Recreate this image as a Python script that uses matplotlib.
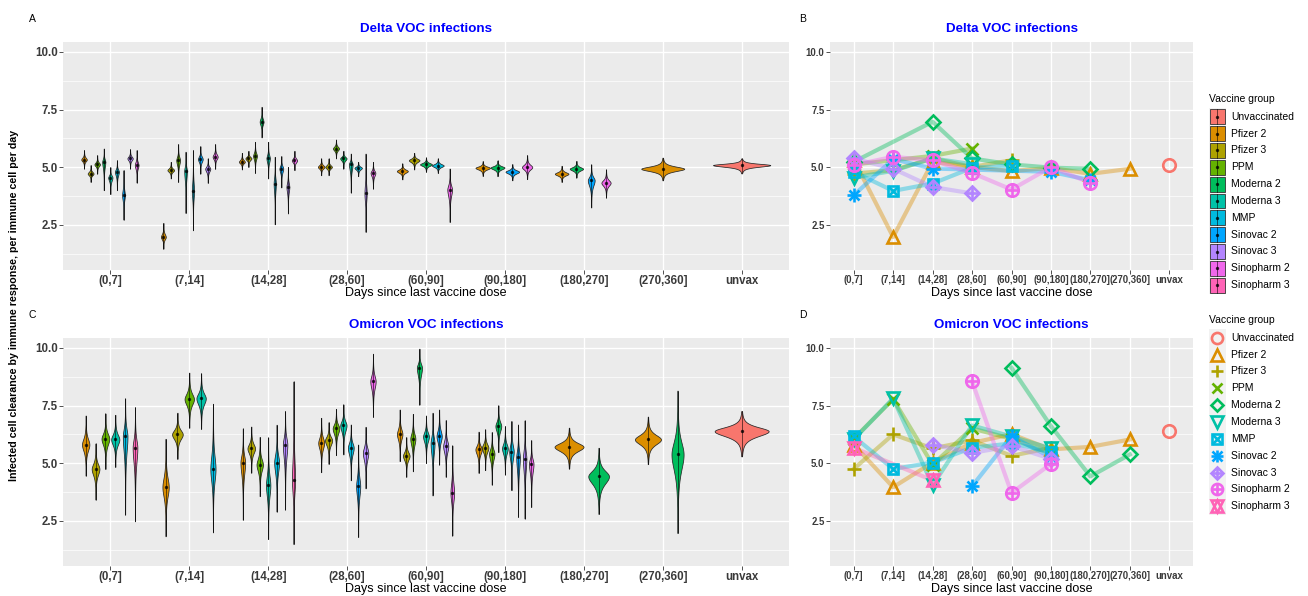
import numpy as np
import pandas as pd
import matplotlib
matplotlib.use('Agg')
import matplotlib.pyplot as plt
from matplotlib.patches import Rectangle

plt.rcParams['font.family'] = ['Liberation Sans', 'DejaVu Sans']

W, H = 1308, 596

groups = ['Unvaccinated', 'Pfizer 2', 'Pfizer 3', 'PPM', 'Moderna 2', 'Moderna 3',
          'MMP', 'Sinovac 2', 'Sinovac 3', 'Sinopharm 2', 'Sinopharm 3']
group_colors = ['#F8766D', '#DB8E00', '#AEA200', '#64B200', '#00BD5C', '#00C1A7',
                '#00BADE', '#00A6FF', '#B385FF', '#EF67EB', '#FF63B6']
# ggplot shapes 1..11 built from matplotlib markers (marker, size factor)
group_markers = [[('o', 1.0)], [('^', 1.0)], [('+', 1.15)], [('x', 0.9)], [('D', 0.78)],
                 [('v', 1.0)], [('s', 0.85), ('x', 0.85)], [('+', 1.15), ('x', 0.85)],
                 [('D', 0.78), ('+', 1.05)], [('o', 1.0), ('+', 1.0)], [('^', 1.0), ('v', 1.0)]]
categories = ['(0,7]', '(7,14]', '(14,28]', '(28,60]', '(60,90]', '(90,180]',
              '(180,270]', '(270,360]', 'unvax']

# ---- Delta VOC: median and range of each posterior violin
delta_cat = (['(0,7]'] * 9 + ['(7,14]'] * 8 + ['(14,28]'] * 9 + ['(28,60]'] * 8 +
             ['(60,90]'] * 5 + ['(90,180]'] * 4 + ['(180,270]'] * 4 + ['(270,360]'] + ['unvax'])
delta_grp = ['Pfizer 2', 'Pfizer 3', 'PPM', 'Moderna 2', 'Moderna 3', 'MMP', 'Sinovac 2', 'Sinovac 3', 'Sinopharm 2',
             'Pfizer 2', 'Pfizer 3', 'PPM', 'Moderna 3', 'MMP', 'Sinovac 2', 'Sinovac 3', 'Sinopharm 2',
             'Pfizer 2', 'Pfizer 3', 'PPM', 'Moderna 2', 'Moderna 3', 'MMP', 'Sinovac 2', 'Sinovac 3', 'Sinopharm 2',
             'Pfizer 2', 'Pfizer 3', 'PPM', 'Moderna 2', 'Moderna 3', 'MMP', 'Sinovac 3', 'Sinopharm 2',
             'Pfizer 2', 'Pfizer 3', 'Moderna 2', 'MMP', 'Sinopharm 2',
             'Pfizer 2', 'Moderna 2', 'Sinovac 2', 'Sinopharm 2',
             'Pfizer 2', 'Moderna 2', 'Sinovac 2', 'Sinopharm 2',
             'Pfizer 2',
             'Unvaccinated']
delta_med = [5.33, 4.72, 5.12, 5.23, 4.55, 4.80, 3.78, 5.38, 5.09,
             1.97, 4.87, 5.30, 4.84, 3.97, 5.35, 4.93, 5.45,
             5.23, 5.38, 5.49, 6.97, 5.38, 4.29, 4.94, 4.14, 5.29,
             5.01, 5.01, 5.81, 5.38, 5.13, 4.97, 3.86, 4.75,
             4.83, 5.30, 5.12, 5.07, 4.03,
             4.97, 4.98, 4.80, 5.00,
             4.71, 4.93, 4.43, 4.32,
             4.93,
             5.09]
delta_lo = [4.94, 4.36, 4.72, 4.00, 3.83, 4.00, 2.72, 4.94, 4.33,
            1.46, 4.51, 4.36, 3.01, 2.26, 4.72, 4.32, 4.93,
            4.90, 5.01, 4.75, 6.29, 4.51, 2.52, 4.12, 2.99, 4.87,
            4.65, 4.65, 5.38, 4.94, 3.90, 4.61, 2.19, 4.07,
            4.47, 4.90, 4.80, 4.75, 2.62,
            4.62, 4.61, 4.43, 4.48,
            4.36, 4.55, 3.25, 3.68,
            4.43,
            4.73]
delta_hi = [5.74, 5.09, 5.52, 5.81, 5.00, 5.30, 4.87, 5.78, 5.74,
            2.58, 5.23, 6.00, 5.67, 5.74, 5.91, 5.38, 6.00,
            5.62, 5.71, 6.10, 7.62, 6.10, 5.45, 5.48, 5.01, 5.71,
            5.38, 5.38, 6.20, 5.71, 5.59, 5.23, 5.59, 5.23,
            5.16, 5.62, 5.42, 5.38, 4.94,
            5.26, 5.29, 5.13, 5.52,
            5.06, 5.27, 5.12, 4.90,
            5.41,
            5.38]

# ---- Omicron VOC
omi_cat = (['(0,7]'] * 6 + ['(7,14]'] * 5 + ['(14,28]'] * 7 + ['(28,60]'] * 8 +
           ['(60,90]'] * 9 + ['(90,180]'] * 9 + ['(180,270]'] * 2 + ['(270,360]'] * 2 + ['unvax'])
omi_grp = ['Pfizer 2', 'Pfizer 3', 'PPM', 'Moderna 3', 'MMP', 'Sinopharm 3',
           'Pfizer 2', 'Pfizer 3', 'PPM', 'Moderna 3', 'MMP',
           'Pfizer 2', 'Pfizer 3', 'PPM', 'Moderna 3', 'MMP', 'Sinovac 3', 'Sinopharm 3',
           'Pfizer 2', 'Pfizer 3', 'PPM', 'Moderna 3', 'MMP', 'Sinovac 2', 'Sinovac 3', 'Sinopharm 2',
           'Pfizer 2', 'Pfizer 3', 'PPM', 'Moderna 2', 'Moderna 3', 'MMP', 'Sinovac 2', 'Sinovac 3', 'Sinopharm 2',
           'Pfizer 2', 'Pfizer 3', 'PPM', 'Moderna 2', 'Moderna 3', 'MMP', 'Sinovac 2', 'Sinovac 3', 'Sinopharm 2',
           'Pfizer 2', 'Moderna 2',
           'Pfizer 2', 'Moderna 2',
           'Unvaccinated']
omi_med = [5.81, 4.75, 6.06, 6.03, 6.16, 5.67,
           3.96, 6.25, 7.78, 7.81, 4.75,
           5.03, 5.64, 4.94, 4.04, 5.03, 5.81, 4.26,
           5.88, 5.99, 6.51, 6.64, 5.67, 4.00, 5.45, 8.55,
           6.26, 5.32, 6.06, 9.14, 6.16, 5.86, 6.17, 5.74, 3.71,
           5.60, 5.67, 5.41, 6.61, 5.64, 5.50, 5.25, 5.19, 4.97,
           5.71, 4.43,
           6.03, 5.38,
           6.39]
omi_lo = [4.46, 3.42, 4.75, 4.84, 2.77, 2.48,
          1.83, 5.19, 6.54, 6.49, 2.00,
          2.55, 4.59, 3.57, 1.71, 2.90, 2.99, 1.49,
          4.61, 4.97, 5.35, 5.38, 4.26, 1.80, 3.91, 7.01,
          5.09, 4.41, 4.65, 7.54, 5.01, 3.60, 4.94, 4.41, 1.86,
          4.58, 4.70, 4.07, 5.48, 4.51, 3.83, 2.67, 2.60, 3.10,
          4.77, 2.80,
          4.96, 1.97,
          5.30]
omi_hi = [7.07, 5.86, 7.16, 7.10, 7.81, 7.43,
          6.06, 7.19, 8.93, 8.90, 7.58,
          6.51, 6.59, 6.14, 6.12, 6.67, 7.26, 8.55,
          6.97, 6.78, 7.36, 7.55, 6.68, 5.81, 6.58, 9.75,
          7.33, 6.13, 7.14, 9.97, 7.07, 7.19, 7.33, 6.87, 5.77,
          6.37, 6.47, 6.35, 7.51, 6.61, 6.83, 6.68, 6.86, 6.00,
          6.54, 5.67,
          7.02, 8.15,
          7.26]


def build(cat, grp, med, lo, hi):
    df = pd.DataFrame({'cat': cat, 'grp': grp, 'med': med, 'lo': lo, 'hi': hi})
    df['ci'] = df['cat'].map({c: i for i, c in enumerate(categories)})
    df['gi'] = df['grp'].map({g: i for i, g in enumerate(groups)})
    df = df.sort_values(['ci', 'gi']).reset_index(drop=True)
    n = df.groupby('ci')['gi'].transform('count')
    k = df.groupby('ci').cumcount()
    df['slot'] = 0.75 / n
    df['x'] = df['ci'] + (k - (n - 1) / 2) * df['slot']
    return df


delta = build(delta_cat, delta_grp, delta_med, delta_lo, delta_hi)
omi = build(omi_cat, omi_grp, omi_med, omi_lo, omi_hi)

NU, Q = 3.0, 4.5


def violin_profile(med, lo, hi):
    y = np.linspace(lo, hi, 150)
    s_up = (hi - med) / Q
    s_dn = (med - lo) / Q
    z = np.where(y >= med, (y - med) / s_up, (med - y) / s_dn)
    g = (1 + z ** 2 / NU) ** (-(NU + 1) / 2)
    return y, g, 2.0 / (s_up + s_dn)


def style_axes(ax, size):
    ax.set_facecolor('#EBEBEB')
    for s in ax.spines.values():
        s.set_visible(False)
    ax.set_xlim(-0.6, 8.6)
    ax.set_ylim(0.55, 10.45)
    ax.set_yticks([2.5, 5, 7.5, 10])
    ax.set_yticklabels(['2.5', '5.0', '7.5', '10.0'])
    ax.set_yticks([1.25, 3.75, 6.25, 8.75], minor=True)
    ax.set_xticks(range(len(categories)))
    ax.set_xticklabels(categories)
    ax.grid(which='major', color='white', lw=1.0)
    ax.grid(which='minor', axis='y', color='white', lw=0.5)
    ax.set_axisbelow(True)
    ax.tick_params(which='major', length=2.75, width=0.6, color='#333333', pad=1.2,
                   labelsize=size, labelcolor='#3A3A3A')
    ax.tick_params(which='minor', length=0)
    for lab in ax.get_xticklabels() + ax.get_yticklabels():
        lab.set_fontweight('bold')


def draw_violins(ax, df):
    prof = [violin_profile(r.med, r.lo, r.hi) for r in df.itertuples()]
    pmax = max(p for _, _, p in prof)
    for (y, g, p), r in zip(prof, df.itertuples()):
        hw = r.slot / 2 * g * (p / pmax) ** 0.7
        ax.fill_betweenx(y, r.x - hw, r.x + hw, facecolor=group_colors[r.gi],
                         edgecolor='#262626', lw=0.55, zorder=3)
        ax.vlines(r.x, r.lo, r.hi, color='black', lw=0.6, alpha=0.65, zorder=4)
        ax.plot(r.x, r.med, 'o', ms=2.4, color='black', alpha=0.8, mew=0, zorder=5)


def draw_markers(ax, x, y, gi, ms=9, zorder=4):
    for m, f in group_markers[gi]:
        ax.plot(x, y, linestyle='none', marker=m, ms=ms * f, mfc='none',
                mec=group_colors[gi], mew=1.9, zorder=zorder)


def draw_points(ax, df):
    for gi, g in enumerate(groups):
        sub = df[df.grp == g].sort_values('ci')
        ax.plot(sub.ci, sub.med, color=group_colors[gi], lw=3, alpha=0.4, zorder=3)
    for gi, g in enumerate(groups):
        sub = df[df.grp == g].sort_values('ci')
        draw_markers(ax, sub.ci, sub.med, gi)


fig = plt.figure(figsize=(W / 100, H / 100), dpi=100)


def add_ax(left, top, right, bottom):
    return fig.add_axes([left / W, 1 - bottom / H, (right - left) / W, (bottom - top) / H])


axA = add_ax(63, 41.6, 789, 269.7)
axB = add_ax(830, 41.6, 1193, 269.7)
axC = add_ax(63, 337.6, 789, 565.8)
axD = add_ax(830, 337.6, 1193, 565.8)

for ax, size in [(axA, 8.3), (axB, 6.9), (axC, 8.3), (axD, 6.9)]:
    style_axes(ax, size)

draw_violins(axA, delta)
draw_violins(axC, omi)
draw_points(axB, delta)
draw_points(axD, omi)

# overlay in pixel coordinates for titles, labels and legends
ov = fig.add_axes([0, 0, 1, 1], zorder=10)
ov.set_xlim(0, W)
ov.set_ylim(H, 0)
ov.axis('off')
ov.patch.set_alpha(0)

for x, y, s in [(32, 19, 'A'), (803, 19, 'B'), (32, 315.5, 'C'), (803, 315.5, 'D')]:
    ov.text(x, y, s, fontsize=7.5, ha='center', va='center')

for cx, y, s in [(426, 28.5, 'Delta VOC infections'), (1011.5, 28.5, 'Delta VOC infections'),
                 (426, 325, 'Omicron VOC infections'), (1011.5, 325, 'Omicron VOC infections')]:
    ov.text(cx, y, s, fontsize=9.6, fontweight='bold', color='#0000FF', ha='center', va='center')

for cx, y in [(426, 293), (1011.5, 293), (426, 589), (1011.5, 589)]:
    ov.text(cx, y, 'Days since last vaccine dose', fontsize=9, ha='center', va='center')

ov.text(14, 305, 'Infected cell clearance by immune response, per immune cell per day',
        fontsize=7.7, fontweight='bold', rotation=90, ha='center', va='center')

KEY = 16.85
# legend B: violin keys
ov.text(1209, 98.5, 'Vaccine group', fontsize=7.5, ha='left', va='center')
for gi, g in enumerate(groups):
    yc = 116.7 + gi * KEY
    ov.add_patch(Rectangle((1209, yc - KEY / 2), KEY, KEY, facecolor='#F2F2F2', edgecolor='none'))
    ov.add_patch(Rectangle((1210, yc - KEY / 2 + 1), KEY - 2, KEY - 2, facecolor=group_colors[gi],
                           edgecolor='#333333', lw=0.6))
    ov.plot([1209 + KEY / 2] * 2, [yc - KEY / 2 + 1, yc + KEY / 2 - 1], color='black', lw=0.6, alpha=0.65)
    ov.plot(1209 + KEY / 2, yc, 'o', ms=2.4, color='black', alpha=0.8, mew=0)
    ov.text(1231, yc, g, fontsize=7.5, ha='left', va='center')

# legend D: shape keys
ov.text(1209, 320, 'Vaccine group', fontsize=7.5, ha='left', va='center')
for gi, g in enumerate(groups):
    yc = 337.7 + gi * KEY
    ov.add_patch(Rectangle((1209, yc - KEY / 2), KEY, KEY, facecolor='#F2F2F2', edgecolor='none'))
    draw_markers(ov, [1209 + KEY / 2], [yc], gi, ms=8.0, zorder=11)
    ov.text(1231, yc, g, fontsize=7.5, ha='left', va='center')

fig.savefig('out.png', dpi=100)
